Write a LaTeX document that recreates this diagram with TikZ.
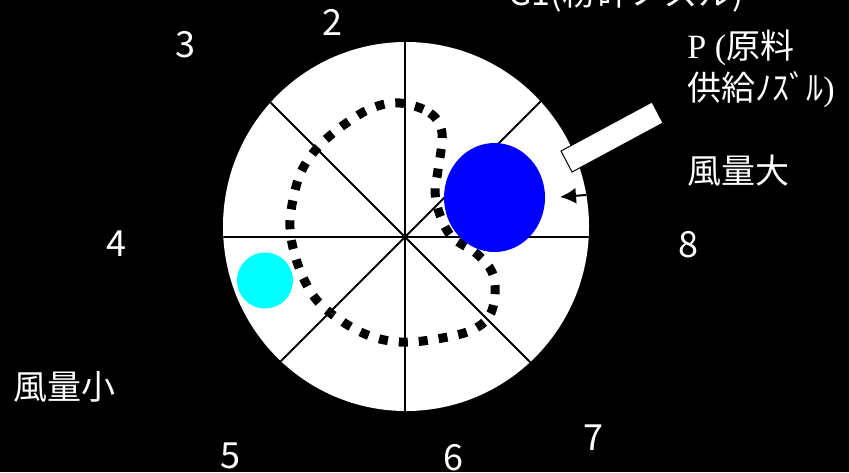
\documentclass[tikz,border=0pt]{standalone}
\usepackage{fontspec}
\usepackage{tikz}
\usetikzlibrary{arrows.meta}
\setmainfont{Noto Sans CJK JP}
\newfontfamily\jpfont{Noto Sans CJK JP}
\newfontfamily\romfont{Liberation Serif}
\definecolor{bigBlue}{HTML}{0000FF}
\definecolor{smallCyan}{HTML}{00FFFF}

\begin{document}
\begin{tikzpicture}[x=0.5pt,y=-0.5pt,
  num/.style={text=white,font=\fontsize{18}{20}\selectfont,inner sep=0pt},
  lbl/.style={text=white,font=\fontsize{17}{21}\selectfont,inner sep=0pt,anchor=west},
  swirl/.style={line width=4.5pt,dash pattern=on 4.5pt off 5.5pt}]
  \useasboundingbox (0,0) rectangle (849,472);
  \clip (0,0) rectangle (849,472);
  \fill[black] (0,0) rectangle (849,472);

  % chamber with sectors
  \coordinate (hub) at (405,237);
  \fill[white] (406,226.5) ellipse [x radius=183, y radius=184.5];
  \begin{scope}
    \clip (406,226.5) ellipse [x radius=183, y radius=184.5];
    \foreach \a in {0,45,...,315}
      \draw[line width=1pt] (hub) -- ++(\a:300);
  \end{scope}

  % flow path
  \draw[swirl] plot[smooth cycle, tension=0.6] coordinates {
    (400,103) (430,113) (442,133) (438,170) (435,192) (440,215)
    (452,237) (477,254) (492,272) (495,295) (488,318) (467,332)
    (430,340) (400,342) (370,336) (340,320) (315,298) (298,265)
    (290,228) (294,195) (303,168) (320,145) (345,124) (372,108)};

  % particles
  \fill[bigBlue] (494.5,197.5) ellipse [x radius=50.5, y radius=54.5];
  \fill[smallCyan] (265,280.5) circle [radius=28];

  % feed nozzle
  \filldraw[fill=white, draw=black, line width=0.5pt]
    (561,151) -- (572,172) -- (663,123) -- (652,102) -- cycle;

  % wind
  \coordinate (windIn) at (586,195);
  \coordinate (windTip) at (560,197);
  \draw[line width=1pt, -{Latex[length=8pt,width=8pt]}] (windIn) -- (windTip);

  % labels
  \node[lbl] (gnoz) at (508,-6) {G1(粉砕ノズル)};
  \node[lbl, align=left] (pnoz) at (687,69)
    {{\romfont P (}原料\\供給ﾉｽﾞﾙ{\romfont )}};
  \node[lbl] (windHi) at (687,171) {風量大};
  \node[lbl] (windLo) at (13,387) {風量小};

  \node[num] (n2) at (332,22) {2};
  \node[num] (n3) at (185,45) {3};
  \node[num] (n4) at (116,244) {4};
  \node[num] (n5) at (230,456) {5};
  \node[num] (n6) at (453,458) {6};
  \node[num] (n7) at (593,438) {7};
  \node[num] (n8) at (688,245) {8};
\end{tikzpicture}
\end{document}
